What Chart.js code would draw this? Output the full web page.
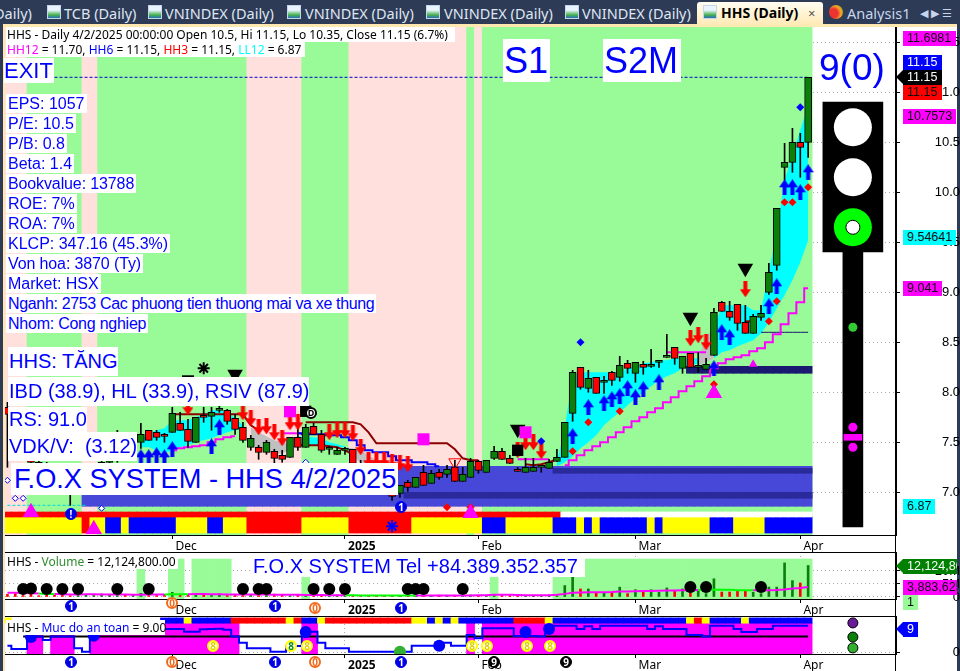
<!DOCTYPE html>
<html>
<head>
<meta charset="utf-8">
<title>HHS (Daily)</title>
<script src="https://cdn.jsdelivr.net/npm/chart.js@4"></script>
<style>
html, body { margin: 0; padding: 0; background: #2d3b57; }
#page { position: relative; width: 960px; height: 671px; overflow: hidden; background: #2d3b57; font-family: "Liberation Sans", Arial, sans-serif; }
#frame { position: absolute; left: 3px; top: 24px; width: 954px; height: 647px; background: #fff; box-sizing: border-box; border: solid #ffe8b0; border-width: 3px 0 0 2px; }
canvas { position: absolute; left: 0; }
.tab { position: absolute; top: 3px; color: #dfe6f2; font: 14.5px/20px "Noto Sans", sans-serif; white-space: nowrap; }
.ico { position: absolute; top: 5px; width: 14px; height: 14px; box-sizing: border-box; border: 1px solid #c6d6ea; background: linear-gradient(#e9f4ff 35%, #44b04a 75%, #2a6fc0); }
#active { position: absolute; left: 697px; top: 2px; width: 126px; height: 25px; background: linear-gradient(#fffdf2, #ffe8b0); border-radius: 3px 3px 0 0; }
.box { position: absolute; background: #fff; color: #0000ff; white-space: pre; box-sizing: border-box; }
.info { font-size: 16px; line-height: 19px; height: 19px; padding: 0 2px; left: 6px; }
.big { font-size: 20px; line-height: 29px; height: 29px; left: 8px; padding-left: 1px; }
.head { font: 12px/15px "Noto Sans", sans-serif; color: #000; }
.tag { position: absolute; font-size: 12.5px; line-height: 15px; height: 15px; box-sizing: border-box; padding-left: 4px; white-space: pre; overflow: hidden; color: #101010; }
.hline { position: absolute; background: #000; height: 1px; left: 5px; width: 891px; }
.coin { position: absolute; width: 12px; height: 12px; border-radius: 50%; box-sizing: border-box; font: bold 10px/11px "Noto Sans", sans-serif; text-align: center; }
.c1 { background: #0000e6; color: #fff; border: 1px solid #0000e6; }
.c0 { background: #fff; color: #f26a1b; border: 2px solid #f26a1b; line-height: 8px; }
.c8 { background: #fff; color: #e0d000; border: 2px solid #ffff00; line-height: 8px; }
.c9 { background: #000; color: #fff; border: 1px solid #000; }
</style>
</head>
<body>
<div id="page">
  <div id="frame"></div>

  <!-- tab strip -->
  <div class="tab" style="left:-6px">Daily)</div>
  <div class="ico" style="left:47px"></div><div class="tab" style="left:64px">TCB (Daily)</div>
  <div class="ico" style="left:148px"></div><div class="tab" style="left:165px">VNINDEX (Daily)</div>
  <div class="ico" style="left:287px"></div><div class="tab" style="left:305px">VNINDEX (Daily)</div>
  <div class="ico" style="left:426px"></div><div class="tab" style="left:444px">VNINDEX (Daily)</div>
  <div class="ico" style="left:565px"></div><div class="tab" style="left:582px">VNINDEX (Daily)</div>
  <div id="active"></div>
  <div class="ico" style="left:703px"></div>
  <div class="tab" style="left:721px;color:#000;font-weight:bold;font-size:14px">HHS (Daily)</div>
  <div class="tab" style="left:808px;color:#555;font-size:13px">×</div>
  <div class="ico" style="left:829px;border:0;border-radius:50%;background:radial-gradient(circle at 30% 60%,#e33 35%,#f5a623 60%,#4a3)"></div>
  <div class="tab" style="left:847px;color:#c8d6ec">Analysis1</div>
  <div class="tab" style="left:920px;color:#c8d6ec;font-size:11px">◀ ▶ ☰</div>

  <canvas id="chartPrice" width="960" height="525" style="top:27px"></canvas>
  <canvas id="chartVolume" width="960" height="64" style="top:552px"></canvas>
  <canvas id="chartSafety" width="960" height="55" style="top:616px"></canvas>

  <div class="hline" style="top:552px"></div>
  <div class="hline" style="top:616px"></div>
  <div style="position:absolute;left:895px;top:27px;width:1px;height:644px;background:#000"></div>

  <!-- main panel text -->
  <div class="box head" style="left:6px;top:27px;width:449px;padding-left:1px">HHS - Daily 4/2/2025 00:00:00 Open 10.5, Hi 11.15, Lo 10.35, Close 11.15 (6.7%)</div>
  <div class="box head" style="left:6px;top:42px;width:299px;padding-left:1px"><span style="color:#ff00ff">HH12</span> = 11.70, <span style="color:#0000ff">HH6</span> = 11.15, <span style="color:#ff0000">HH3</span> = 11.15, <span style="color:#00ffff">LL12</span> = 6.87</div>
  <div class="box" style="left:4px;top:58px;width:50px;height:25px;font-size:22px;line-height:25px">EXIT</div>
  <div class="box info" style="top:94px">EPS: 1057</div>
  <div class="box info" style="top:114px">P/E: 10.5</div>
  <div class="box info" style="top:134px">P/B: 0.8</div>
  <div class="box info" style="top:154px">Beta: 1.4</div>
  <div class="box info" style="top:174px;letter-spacing:-0.12px">Bookvalue: 13788</div>
  <div class="box info" style="top:194px">ROE: 7%</div>
  <div class="box info" style="top:214px">ROA: 7%</div>
  <div class="box info" style="top:234px">KLCP: 347.16 (45.3%)</div>
  <div class="box info" style="top:254px;letter-spacing:-0.12px">Von hoa: 3870 (Ty)</div>
  <div class="box info" style="top:274px">Market: HSX</div>
  <div class="box info" style="top:294px;letter-spacing:-0.34px">Nganh: 2753 Cac phuong tien thuong mai va xe thung</div>
  <div class="box info" style="top:314px;letter-spacing:-0.24px">Nhom: Cong nghiep</div>
  <div class="box big" style="top:347px">HHS: TĂNG</div>
  <div class="box big" style="top:377px">IBD (38.9), HL (33.9), RSIV (87.9)</div>
  <div class="box big" style="top:407px;height:25px;line-height:25px">RS: 91.0</div>
  <div class="box big" style="top:432px">VDK/V:  (3.12)</div>
  <div class="box" style="left:11px;top:463px;width:387px;height:32px;font-size:27.2px;line-height:32px;padding-left:3px">F.O.X SYSTEM - HHS 4/2/2025</div>
  <div class="box" style="left:503px;top:39px;width:47px;height:43px;font-size:36px;line-height:43px;padding-left:1px">S1</div>
  <div class="box" style="left:603px;top:39px;width:78px;height:43px;font-size:36px;line-height:43px;padding-left:1px">S2M</div>
  <div class="box" style="left:819px;top:46px;width:68px;height:44px;font-size:37px;line-height:44px;background:none">9(0)</div>
  <div class="coin" style="left:305px;top:407px;background:#fff;color:#000;border:2px solid #000;font-size:9px;line-height:8px">D</div>
  <div class="coin c1" style="left:65px;top:508px">!</div>
  <div class="coin c1" style="left:395px;top:501px">1</div>

  <!-- value tags on the price axis -->
  <div class="tag" style="left:903px;top:31px;width:53px;background:#ff00ff">11.6981</div>
  <div class="tag" style="left:903px;top:55px;width:39px;background:#0000ff;color:#fff">11.15</div>
  <div class="tag" style="left:903px;top:70px;width:39px;background:#000;color:#fff">11.15</div>
  <div style="position:absolute;left:896px;top:70px;width:0;height:0;border:solid transparent;border-width:7px 7px 7px 0;border-right-color:#000"></div>
  <div class="tag" style="left:903px;top:85px;width:39px;background:#ff0000">11.15</div>
  <div class="tag" style="left:903px;top:109px;width:53px;background:#ff00ff">10.7573</div>
  <div class="tag" style="left:903px;top:230px;width:53px;background:#00ffff">9.54641</div>
  <div class="tag" style="left:903px;top:281px;width:39px;background:#ff00ff">9.041</div>
  <div class="tag" style="left:903px;top:499px;width:32px;background:#00ffff">6.87</div>

  <!-- volume panel text -->
  <div class="box head" style="left:6px;top:554px;width:172px;padding-left:1px">HHS - <span style="color:#2e8b2e">Volume</span> = 12,124,800.00</div>
  <div class="box" style="left:252px;top:556px;width:333px;height:21px;font-size:20px;line-height:21px;padding-left:1px">F.O.X SYSTEM Tel +84.389.352.357</div>
  <div class="tag" style="left:903px;top:559px;width:54px;background:#008000;color:#fff">12,124,800</div>
  <div style="position:absolute;left:896px;top:559px;width:0;height:0;border:solid transparent;border-width:7px 7px 7px 0;border-right-color:#008000"></div>
  <div class="tag" style="left:903px;top:580px;width:54px;background:#ff00ff">3,883,625</div>
  <div class="tag" style="left:903px;top:595px;width:15px;background:#98fb98">1</div>

  <!-- safety panel text -->
  <div class="box head" style="left:6px;top:620px;width:159px;padding-left:1px">HHS - <span style="color:#0000ff">Muc do an toan</span> = 9.00</div>
  <div class="tag" style="left:903px;top:622px;width:15px;background:#0000ff;color:#fff">9</div>
  <div style="position:absolute;left:896px;top:622px;width:0;height:0;border:solid transparent;border-width:7px 7px 7px 0;border-right-color:#0000ff"></div>

  <!-- circled signals along the time axes -->
  <div class="coin c1" style="left:65px;top:600px">1</div>
  <div class="coin c0" style="left:166px;top:597px">0</div>
  <div class="coin c1" style="left:269px;top:600px">1</div>
  <div class="coin c0" style="left:309px;top:602px">0</div>
  <div class="coin c1" style="left:395px;top:602px">1</div>
  <div class="coin c1" style="left:65px;top:656px">1</div>
  <div class="coin c0" style="left:166px;top:656px">0</div>
  <div class="coin c1" style="left:269px;top:656px">1</div>
  <div class="coin c0" style="left:309px;top:656px">0</div>
  <div class="coin c1" style="left:395px;top:656px">1</div>
  <div class="coin c9" style="left:488px;top:656px">9</div>
  <div class="coin c9" style="left:560px;top:656px">9</div>
  <div class="coin c8" style="left:207px;top:640px">8</div>
  <div class="coin c8" style="left:285px;top:640px;color:#0a8a0a">8</div>
  <div class="coin c8" style="left:301px;top:640px">8</div>
  <div class="coin c8" style="left:466px;top:640px">8</div>
  <div class="coin c8" style="left:481px;top:640px">8</div>
  <div class="coin c8" style="left:521px;top:640px">8</div>
  <div class="coin c8" style="left:544px;top:640px">8</div>
</div>

<script>
// Datos. Indice de barra 0..102, precios en miles
const opens  = [7.85,7.60,7.50,7.40,7.30,7.25,7.15,7.10,7.05,7.00,7.08,7.15,7.20,7.30,7.35,7.45,7.40,7.50,7.62,7.60,7.57,7.60,7.69,7.63,7.50,7.77,7.76,7.82,7.82,7.74,7.65,7.45,7.45,7.40,7.41,7.37,7.35,7.55,7.45,7.66,7.58,7.43,7.38,7.42,7.43,7.28,7.20,7.15,7.08,7.02,6.99,7.10,7.05,7.20,7.09,7.20,7.18,7.25,7.11,7.15,7.31,7.20,7.34,7.41,7.34,7.23,7.20,7.21,7.25,7.24,7.31,7.35,7.79,8.25,8.04,8.15,8.10,8.20,8.15,8.29,8.19,8.28,8.26,8.30,8.35,8.45,8.24,8.39,8.25,8.23,8.37,8.90,8.81,8.88,8.70,8.59,8.75,9.00,9.27,10.25,10.30,10.50,10.50];
const closes = [7.78,7.50,7.40,7.30,7.25,7.15,7.10,7.05,7.00,7.08,7.15,7.20,7.30,7.35,7.45,7.40,7.47,7.58,7.52,7.55,7.56,7.79,7.62,7.51,7.75,7.75,7.80,7.84,7.71,7.63,7.52,7.54,7.40,7.50,7.34,7.33,7.55,7.45,7.65,7.58,7.42,7.43,7.42,7.42,7.29,7.25,7.15,7.08,7.02,6.96,7.07,7.05,7.15,7.07,7.19,7.15,7.23,7.11,7.18,7.31,7.22,7.32,7.41,7.33,7.29,7.21,7.25,7.25,7.25,7.30,7.35,7.70,8.20,8.05,8.14,7.99,8.10,8.12,8.27,8.24,8.30,8.25,8.26,8.30,8.36,8.34,8.36,8.25,8.25,8.28,8.80,8.81,8.75,8.69,8.59,8.76,8.79,9.20,9.84,10.30,10.50,10.45,11.15];
const highs  = [7.90,7.65,7.55,7.45,7.35,7.30,7.20,7.15,7.10,7.10,7.18,7.25,7.32,7.40,7.62,7.50,7.50,7.69,7.62,7.62,7.59,7.85,7.80,7.73,7.75,7.85,7.85,7.87,7.83,7.78,7.70,7.57,7.47,7.52,7.43,7.42,7.55,7.65,7.68,7.69,7.62,7.46,7.45,7.45,7.43,7.32,7.25,7.18,7.10,7.05,7.07,7.12,7.15,7.27,7.22,7.23,7.27,7.32,7.25,7.34,7.32,7.32,7.46,7.44,7.37,7.25,7.34,7.34,7.25,7.33,7.43,7.70,8.22,8.25,8.22,8.15,8.16,8.21,8.36,8.32,8.30,8.31,8.43,8.32,8.58,8.45,8.36,8.39,8.40,8.34,8.84,8.91,8.91,8.88,8.87,8.78,8.87,9.29,9.84,10.49,10.64,10.59,11.15];
const lows   = [7.25,7.45,7.35,7.25,7.20,7.10,7.05,7.00,6.87,6.98,7.05,7.12,7.18,7.28,7.30,7.35,7.38,7.44,7.52,7.52,7.50,7.60,7.62,7.45,7.50,7.70,7.62,7.80,7.68,7.58,7.50,7.42,7.33,7.38,7.28,7.30,7.35,7.42,7.45,7.58,7.40,7.38,7.38,7.38,7.25,7.20,7.10,7.03,6.98,6.92,6.95,7.01,7.05,7.07,7.09,7.13,7.15,7.11,7.11,7.15,7.19,7.20,7.33,7.33,7.29,7.21,7.20,7.21,7.20,7.24,7.31,7.35,7.71,8.03,8.00,7.99,7.99,8.07,8.11,8.19,8.10,8.18,8.25,8.25,8.35,8.28,8.19,8.25,8.20,8.23,8.37,8.81,8.72,8.62,8.59,8.59,8.72,8.98,9.22,10.12,10.20,10.15,10.35];

const monthTickBars = [21, 43, 60, 80, 101];
const monthLabels = ['Dec', '2025', 'Feb', 'Mar', 'Apr'];
const priceTicks = [7.0, 7.5, 8.0, 8.5, 9.0, 9.5, 10.0, 10.5, 11.0, 11.5];

// fondo por tramos [barras, estado]
const bandRuns = [[3,'P'],[7,'G'],[2,'P'],[19,'G'],[7,'P'],[6,'G'],[15,'P'],[1,'G'],[1,'P'],[42,'G']];
const stripRuns = [[10,'Y'],[1,'R'],[2,'Y'],[2,'B'],[1,'Y'],[6,'B'],[4,'Y'],[2,'B'],[3,'Y'],[7,'R'],[6,'Y'],[8,'R'],[9,'Y'],[3,'B'],[6,'Y'],[3,'B'],[1,'Y'],[1,'B'],[1,'Y'],[6,'B'],[1,'Y'],[1,'B'],[6,'Y'],[3,'B'],[4,'Y'],[6,'B']];
const alertRuns = [[71,'R'],[32,'W']];

// zonas azules abajo [barra inicial, bajo, alto]
const zoneBase = [10, 6.86, 7.26];
const zoneInnerLow = [51, 6.94, 7.00];
const zoneInnerHigh = [70, 7.19, 7.24];
const supportBar = [87, 8.19, 8.26];
const thinLineStart = 96;
const thinLinePrice = 8.60;
const exitStart = 6;
const lastClose = 11.15;
const lowest12 = 6.87;

// cinta cyan / gris
const cyanAStart = 17;
const cyanATop = [7.52,7.59,7.62,7.64,7.72,7.72,7.72,7.75,7.78,7.82,7.82,7.80,7.74,7.67];
const cyanABottom = [7.45,7.45,7.42,7.39,7.42,7.45,7.47,7.50,7.52,7.54,7.57,7.60,7.62,7.64];
const grayAStart = 31;
const grayATop = [7.65,7.60,7.56,7.52,7.50,7.48];
const grayABottom = [7.49,7.43,7.40,7.38,7.39,7.42];
const cyanBStart = 37;
const cyanBTop = [7.56,7.55,7.55,7.54,7.50,7.48,7.46];
const cyanBBottom = [7.47,7.47,7.47,7.47,7.46,7.45,7.45];
const grayBStart = 43;
const grayBTop = [7.45,7.44,7.42,7.37,7.32,7.30,7.27];
const grayBBottom = [7.45,7.37,7.29,7.27,7.24,7.22,7.22];
const cyanCStart = 70;
const cyanCTop = [7.30,7.64,8.17,8.20,8.20,8.20,8.20,8.20,8.20,8.24,8.26,8.29,8.30,8.32,8.32,8.34,8.34,8.34,8.34];
const cyanCBottom = [7.26,7.30,7.36,7.44,7.50,7.57,7.67,7.74,7.80,7.87,7.94,8.00,8.06,8.12,8.16,8.19,8.24,8.26,8.29];
const grayCStart = 88;
const grayCTop = [8.32,8.57,8.62];
const grayCBottom = [8.27,8.30,8.34];
const cyanDStart = 90;
const cyanDTop = [8.62,8.87,8.87,8.87,8.87,8.82,8.82,9.20,9.62,10.12,10.37,10.62,10.87];
const cyanDBottom = [8.34,8.40,8.42,8.46,8.49,8.52,8.59,8.70,8.84,8.97,9.12,9.30,9.52];

// lineas
const trailRightStart = 71;
const trailRight = [7.27,7.32,7.37,7.42,7.46,7.50,7.55,7.60,7.65,7.71,7.75,7.80,7.84,7.90,7.95,8.01,8.06,8.11,8.16,8.24,8.29,8.33,8.35,8.37,8.41,8.44,8.50,8.58,8.68,8.79,8.90,9.04];
const trailLeftStart = 21;
const trailLeft = [7.42,7.44,7.45,7.46,7.47,7.50,7.53,7.55,7.56];
const trailMidStart = 35;
const trailMid = [7.59,7.59,7.59,7.59,7.59];
const trailFlatStart = 65;
const trailFlat = [7.33,7.33,7.33,7.33,7.33];
const trailUpperStart = 84;
const trailUpper = [8.40,8.40,8.40,8.40,8.40,8.40];
const brownAStart = 21;
const brownA = [7.78,7.78,7.78,7.78,7.78,7.78,7.78,7.78,7.78,7.78,7.67,7.62];
const brownBStart = 38;
const brownB = [7.70,7.70,7.70,7.70,7.70,7.70,7.70,7.68,7.60,7.49,7.49,7.49,7.49,7.49,7.49,7.49,7.49,7.49,7.49,7.43,7.34,7.32,7.32];
const brownCStart = 37;
const brownC = [7.47,7.47,7.47,7.47,7.46,7.45,7.42,7.38];
const brownDStart = 66;
const brownD = [7.28,7.27,7.28,7.30,7.33];
const brownEStart = 94;
const brownE = [8.71,8.71];
const blueTrailStart = 37;
const blueTrail = [7.59,7.58,7.58,7.58,7.57,7.57,7.55,7.52,7.47,7.42,7.40,7.40,7.36,7.32,7.32,7.30,7.30,7.28,7.26];

// senales
const upBars = [17,18,19,20,21,26,27,72,74,76,77,78,79,80,81,83,90,91,92,97,98,99,100,101,102];
const upPrices = [7.35,7.35,7.37,7.35,7.43,7.46,7.65,7.56,7.85,7.89,7.93,7.96,8.04,7.95,8.03,8.10,8.24,8.60,8.55,8.86,9.06,10.05,10.05,10.00,10.20];
const downBars = [23,30,31,32,33,34,35,36,37,41,42,43,44,45,46,47,48,49,50,51,65,66,67,68,87,88,89,94];
const downPrices = [7.85,7.80,7.74,7.65,7.66,7.60,7.54,7.70,7.70,7.60,7.62,7.62,7.59,7.45,7.32,7.32,7.32,7.30,7.29,7.28,7.42,7.50,7.50,7.41,8.54,8.57,8.50,9.03];
const redDotBars = [56,59,72,74,78,90,97,98,99,100,102];
const redDotPrices = [6.85,6.85,7.41,7.70,7.81,8.08,8.71,8.91,9.90,9.90,10.05];
const blueDotBars = [68,73,101];
const blueDotPrices = [7.51,8.50,10.85];
const hollowBars = [0,1,2,12,38];
const hollowPrices = [7.12,6.94,6.94,6.84,7.30];
const sellBars = [29,65,87,94];
const sellPrices = [8.18,7.63,8.75,9.24];
const blackBoxBars = [38,65];
const blackBoxPrices = [7.81,7.42];
const pinkBoxBars = [36,53,66];
const pinkBoxPrices = [7.81,7.53,7.60];
const pinkUpBars = [3,11,59,90];
const pinkUpPrices = [6.80,6.63,6.79,7.99];
const pinkUpSmallBars = [95];
const pinkUpSmallPrices = [8.28];
const hollowDownBars = [57];
const hollowDownPrices = [7.30];
const starBars = [25];
const starPrices = [8.24];
const dashBars = [23];
const dashPrices = [8.16];
const snowBars = [49];
const snowPrices = [6.66];

// semaforo, en la columna derecha del panel
const lampBar = 107.7;
const lampHousing = [9.403, 10.903];
const lampPole = [6.653, 9.403];
const lampWhite = [10.65, 10.15];
const lampGreen = 9.65;
const poleGreen = 8.65;
const polePink = [7.65, 7.45];
const poleDash = [7.52, 7.58];

// volumen (millones)
const volumes = [1.0,1.3,0.6,1.2,0.5,0.9,0.7,1.1,0.5,1.0,0.8,0.6,1.2,0.9,0.6,0.8,1.0,1.4,0.7,0.6,0.9,1.8,0.7,0.8,0.9,1.1,0.6,1.2,0.6,0.8,0.9,0.7,0.6,0.8,1.1,0.7,0.5,0.6,0.9,0.7,0.6,0.5,0.8,0.6,0.7,0.4,0.5,0.6,0.4,0.5,0.6,0.7,0.4,0.6,0.5,0.7,0.4,0.5,0.6,0.8,0.5,0.4,0.9,0.6,0.5,0.7,0.4,0.6,0.5,0.8,0.9,4.4,7.7,3.1,3.1,1.8,1.5,1.8,3.8,1.3,2.8,2.4,2.8,1.8,3.5,2.4,3.1,1.5,2.2,1.3,7.0,1.9,1.9,2.2,2.2,1.8,1.3,3.8,3.8,13.1,6.3,5.4,12.12];
const volumeMa = [1.6,1.6,1.5,1.4,1.3,1.2,1.2,1.1,1.0,1.0,1.1,1.1,1.0,1.0,1.0,1.0,0.9,0.9,1.0,1.0,1.0,1.1,1.1,1.1,1.2,1.2,1.1,1.1,1.0,1.0,1.0,1.0,1.0,1.0,0.9,0.9,0.9,0.9,0.8,0.8,0.8,0.7,0.7,0.7,0.7,0.6,0.6,0.6,0.6,0.6,0.6,0.6,0.6,0.6,0.6,0.6,0.6,0.6,0.6,0.6,0.7,0.7,0.9,0.9,0.9,0.8,0.7,0.7,0.7,0.7,0.9,1.2,1.6,1.7,1.8,1.8,1.8,1.9,2.1,2.1,2.2,2.3,2.3,2.4,2.5,2.5,2.6,2.6,2.7,2.7,2.8,2.8,2.8,2.6,2.6,2.6,2.6,2.6,2.7,2.9,3.3,3.5,3.88];
const volumeMaLimeBars = [4,5,20,21,22,43,44,45,46,47,48,49,50,51,88,89,90,91,92,93,94];
const volumeBandRuns = [[17,null],[1,10.8],[3,null],[2,14.6],[1,null],[5,14.6],[9,null],[1,7.7],[23,null],[1,7.7],[7,null],[33,14.6]];
const volumeDotBars = [2,3,5,7,9,14,18,30,32,33,39,41,43,51,52,53,58,87,89,96];
const volumeDotValues = [3.1,3.3,3.1,3.1,3.1,3.1,3.1,3.1,3.1,3.1,3.1,3.1,3.1,3.1,3.1,3.1,3.1,3.85,3.85,3.85];
const volumeTicks = [0, 5, 10];

// muc do an toan
const safety = [2.35,1.24,1.24,4.2,5.35,4.2,5.35,5.35,5.35,1.46,0.35,5.35,6.5,6.5,6.5,6.5,6.5,6.5,6.5,6.5,7.9,7.9,7.9,7,7,7.8,7.9,8,7.6,5.4,3.35,1.46,1.46,1.46,0.35,0.35,2.2,2.2,7,7,3.35,1.46,1.46,1.46,0.35,0.35,0.35,0.35,0.35,0.35,0.35,0.35,2.35,2.35,2.35,3.35,3.35,2.35,2.35,5.9,4.8,8.1,8.1,8.1,8.1,5.57,5.57,5.57,5.35,9,9,9,9,7.9,8.8,7.9,9,9,9,9,9,9,7.9,8.8,7.9,7.9,7.9,5.9,5.9,5.35,9,9,9,7.9,6.9,6.9,7.9,7.9,9,9,9,9,9];
const safetyZoneRuns = [[3,null],[2,6.7],[1,null],[3,6.7],[2,null],[9,6.7],[10,9.8],[8,null],[2,9.8],[19,null],[1,9.8],[1,null],[42,9.8]];
const safetyStripRuns = [[1,'Y'],[19,null],[3,'B'],[1,'Y'],[5,'B'],[7,'R'],[1,'Y'],[1,'R'],[2,'B'],[1,'Y'],[11,'R'],[2,'Y'],[1,'B'],[1,'Y'],[1,'B'],[1,'Y'],[7,'B'],[4,'R'],[1,'Y'],[17,'B'],[1,'Y'],[1,'R'],[1,'Y'],[4,'B'],[1,'Y'],[8,'B']];
const safetyLevel = 5.35;
const safetyDotBars = [3,11,38,55,66,69];
const safetyDotValues = [5.2,5.6,6.9,2.3,6.9,7.9];
const safetyGreenBars = [50];
const safetyGreenValues = [0.35];
const safetyLampPurple = 9.9;
const safetyLampDark = 5.2;
const safetyLampGreen = 1.6;

// ----- colores -----
const cellColors = { P: '#ffe0dc', G: '#98fb98', Y: '#ffff00', R: '#ff0000', B: '#0000ff', W: '#ffffff' };
const upColor = '#0a7f0a';
const downColor = '#ff0000';

// ----- ayudas -----
function expandRuns(runs) {
    const out = [];
    runs.forEach(([count, value]) => {
        for (let k = 0; k < count; k++) out.push(value);
    });
    return out;
}

function seriesPoints(start, values) {
    return values.map((v, k) => ({ x: start + k, y: v }));
}

function pairPoints(bars, values) {
    return bars.map((b, k) => ({ x: b, y: values[k] }));
}

function cellBars(states, low, high, order, thickness) {
    const data = [];
    const colors = [];
    states.forEach((s, i) => {
        if (s === null) return;
        data.push({ x: i, y: [low, high] });
        colors.push(cellColors[s]);
    });
    return { type: 'bar', data, backgroundColor: colors, barThickness: thickness || 8, grouped: false, order };
}

function rangeBars(range, color, order) {
    const data = [];
    for (let i = range[0]; i < opens.length; i++) data.push({ x: i, y: [range[1], range[2]] });
    return { type: 'bar', data, backgroundColor: color, barThickness: 8, grouped: false, order };
}

function lineSet(data, color, width, order, extra) {
    return Object.assign({ type: 'line', data, borderColor: color, borderWidth: width, pointRadius: 0, fill: false, tension: 0, order }, extra || {});
}

function ribbon(start, top, bottom, color, order) {
    return [
        lineSet(seriesPoints(start, top), 'transparent', 0, order, { fill: '+1', backgroundColor: color }),
        lineSet(seriesPoints(start, bottom), 'transparent', 0, order)
    ];
}

function marks(data, style, color, radius, order, extra) {
    return Object.assign({ type: 'scatter', data, pointStyle: style, pointRadius: radius, pointBackgroundColor: color, pointBorderColor: color, pointBorderWidth: 0, order }, extra || {});
}

// flechas de senal como imagen de punto
function arrowImage(color, up) {
    const c = document.createElement('canvas');
    c.width = 11;
    c.height = 16;
    const g = c.getContext('2d');
    if (!up) { g.translate(0, 16); g.scale(1, -1); }
    g.fillStyle = color;
    g.beginPath();
    g.moveTo(5.5, 0);
    g.lineTo(11, 8);
    g.lineTo(7.5, 8);
    g.lineTo(7.5, 16);
    g.lineTo(3.5, 16);
    g.lineTo(3.5, 8);
    g.lineTo(0, 8);
    g.closePath();
    g.fill();
    return c;
}

const xMin = (5 - 7.43) / 7.85;
const xMax = (896 - 7.43) / 7.85;

function timeAxis(labelHeight) {
    return {
        type: 'linear', min: xMin, max: xMax, offset: false,
        grid: { color: '#aaaaaa', tickColor: '#000', tickLength: 4, offset: false },
        border: { color: '#000', dash: [1, 3] },
        ticks: {
            autoSkip: false, maxRotation: 0, align: 'start', color: '#000', padding: 0,
            font: c => ({ family: 'Noto Sans', size: 12, weight: c.tick && c.tick.label === ' 2025' ? 'bold' : 'normal' }),
            callback: v => ' ' + monthLabels[monthTickBars.indexOf(v)]
        },
        afterBuildTicks: s => { s.ticks = monthTickBars.map(v => ({ value: v })); },
        afterFit: s => { s.height = labelHeight; }
    };
}

function valueAxis(min, max, ticks, padding, label) {
    return {
        type: 'linear', position: 'right', min, max, beginAtZero: false,
        grid: { color: '#aaaaaa', tickColor: '#000', tickLength: 4 },
        border: { color: '#000', dash: [1, 3] },
        ticks: { color: '#000', padding, crossAlign: 'far', includeBounds: false, font: { family: 'Liberation Sans', size: 13 }, callback: label },
        afterBuildTicks: s => { s.ticks = ticks.map(v => ({ value: v })); },
        afterFit: s => { s.width = 64; s.paddingTop = 0; s.paddingBottom = 0; }
    };
}

function baseOptions(xAxis, yAxis) {
    return {
        responsive: false,
        animation: false,
        layout: { autoPadding: false, padding: { left: 5, top: 0, right: 0, bottom: 0 } },
        plugins: { legend: { display: false }, tooltip: { enabled: false } },
        events: [],
        scales: { x: xAxis, y: yAxis }
    };
}

// ----- panel de precio -----
const yMinPrice = 6.573;
const yMaxPrice = 11.653;
const candleData = opens.map((o, i) => ({ x: i, y: [o, closes[i]] }));
const wickData = opens.map((o, i) => ({ x: i, y: [lows[i], highs[i]] }));
const candleColors = opens.map((o, i) => (closes[i] >= o ? upColor : downColor));

const priceDatasets = [
    cellBars(expandRuns(bandRuns), yMinPrice, yMaxPrice, 100),
    rangeBars(zoneBase, '#4848d8', 90),
    rangeBars(zoneInnerLow, '#2a2a9c', 89),
    rangeBars(zoneInnerHigh, '#2a2a9c', 89),
    ...ribbon(cyanAStart, cyanATop, cyanABottom, '#00ffff', 80),
    ...ribbon(grayAStart, grayATop, grayABottom, '#c0c0c0', 80),
    ...ribbon(cyanBStart, cyanBTop, cyanBBottom, '#00ffff', 80),
    ...ribbon(grayBStart, grayBTop, grayBBottom, '#c0c0c0', 80),
    ...ribbon(cyanCStart, cyanCTop, cyanCBottom, '#00ffff', 80),
    ...ribbon(grayCStart, grayCTop, grayCBottom, '#c0c0c0', 80),
    ...ribbon(cyanDStart, cyanDTop, cyanDBottom, '#00ffff', 80),
    lineSet(seriesPoints(exitStart, new Array(opens.length - exitStart).fill(lastClose)), '#0000c8', 1, 70, { borderDash: [3, 2] }),
    lineSet(seriesPoints(0, new Array(11).fill(lowest12)), '#00d8d8', 1, 70, { borderDash: [3, 2] }),
    lineSet(seriesPoints(thinLineStart, new Array(opens.length - thinLineStart).fill(thinLinePrice)), '#1a1a70', 1, 70),
    { type: 'bar', data: seriesPoints(supportBar[0], new Array(opens.length - supportBar[0]).fill([supportBar[1], supportBar[2]])), backgroundColor: '#1a1a70', barThickness: 8, grouped: false, order: 69 },
    lineSet(seriesPoints(trailRightStart, trailRight), '#ff00ff', 2, 60, { stepped: 'middle' }),
    lineSet(seriesPoints(trailLeftStart, trailLeft), '#ff00ff', 2, 60, { stepped: 'middle' }),
    lineSet(seriesPoints(trailMidStart, trailMid), '#ff00ff', 2, 60),
    lineSet(seriesPoints(trailFlatStart, trailFlat), '#ff00ff', 2, 60),
    lineSet(seriesPoints(trailUpperStart, trailUpper), '#ff00ff', 2, 60),
    lineSet(seriesPoints(brownAStart, brownA), '#8b0000', 2, 59),
    lineSet(seriesPoints(brownBStart, brownB), '#8b0000', 2, 59),
    lineSet(seriesPoints(brownCStart, brownC), '#8b0000', 2, 59),
    lineSet(seriesPoints(brownDStart, brownD), '#8b0000', 2, 59),
    lineSet(seriesPoints(brownEStart, brownE), '#8b0000', 2, 59),
    lineSet(seriesPoints(blueTrailStart, blueTrail), '#0000ff', 2, 58, { stepped: 'middle' }),
    { type: 'bar', data: wickData, backgroundColor: '#000', barThickness: 1, grouped: false, order: 50 },
    { type: 'bar', data: candleData, backgroundColor: candleColors, borderColor: '#000', borderWidth: 1, borderSkipped: false, minBarLength: 2, barThickness: 7, grouped: false, order: 49 },
    cellBars(expandRuns(alertRuns), 6.753, 6.803, 40),
    cellBars(expandRuns(stripRuns), 6.593, 6.753, 40),
    marks(pairPoints(upBars, upPrices), arrowImage('#0000ff', true), '#0000ff', 8, 30),
    marks(pairPoints(downBars, downPrices), arrowImage('#ff0000', false), '#ff0000', 8, 30),
    marks(pairPoints(redDotBars, redDotPrices), 'rectRot', '#ff0000', 4, 29),
    marks(pairPoints(blueDotBars, blueDotPrices), 'rectRot', '#0000ff', 4, 29),
    marks(pairPoints(hollowBars, hollowPrices), 'rectRot', '#ffffff', 3, 29, { pointBorderColor: '#0000ff', pointBorderWidth: 1 }),
    marks(pairPoints(sellBars, sellPrices), 'triangle', '#000', 9, 28, { rotation: 180 }),
    marks(pairPoints(blackBoxBars, blackBoxPrices), 'rect', '#000', 8, 27),
    marks(pairPoints(pinkBoxBars, pinkBoxPrices), 'rect', '#ff00ff', 8.5, 26),
    marks(pairPoints(pinkUpBars, pinkUpPrices), 'triangle', '#ff00ff', 9.5, 26),
    marks(pairPoints(pinkUpSmallBars, pinkUpSmallPrices), 'triangle', '#ff00ff', 5, 26),
    marks(pairPoints(hollowDownBars, hollowDownPrices), 'triangle', 'transparent', 7, 25, { rotation: 180, pointBorderColor: '#ff0000', pointBorderWidth: 1 }),
    marks(pairPoints(starBars, starPrices), 'star', '#000', 6, 25, { pointBorderWidth: 2 }),
    marks(pairPoints(dashBars, dashPrices), 'line', '#000', 6, 25, { pointBorderWidth: 2 }),
    marks(pairPoints(snowBars, snowPrices), 'star', '#0000ff', 6, 25, { pointBorderWidth: 2 }),
    { type: 'bar', data: [{ x: lampBar, y: lampHousing }], backgroundColor: '#000', barThickness: 60, grouped: false, order: 20 },
    { type: 'bar', data: [{ x: lampBar, y: lampPole }], backgroundColor: '#000', barThickness: 20, grouped: false, order: 20 },
    marks(lampWhite.map(v => ({ x: lampBar, y: v })), 'circle', '#fff', 19, 19),
    marks([{ x: lampBar, y: lampGreen }], 'circle', '#00ff00', 19, 19),
    marks([{ x: lampBar, y: lampGreen }], 'circle', '#fff', 7, 18, { pointBorderColor: '#000', pointBorderWidth: 1 }),
    marks([{ x: lampBar, y: poleGreen }], 'circle', '#32cd32', 4.5, 19),
    marks(polePink.map(v => ({ x: lampBar, y: v })), 'circle', '#ff00ff', 4.5, 19),
    { type: 'bar', data: [{ x: lampBar, y: poleDash }], backgroundColor: '#ff00ff', barThickness: 18, grouped: false, order: 18 }
];

new Chart(document.getElementById('chartPrice').getContext('2d'), {
    type: 'bar',
    data: { datasets: priceDatasets },
    options: baseOptions(timeAxis(17), valueAxis(yMinPrice, yMaxPrice, priceTicks, 21, v => v.toFixed(1)))
});

// ----- panel de volumen -----
const yMinVolume = -0.77;
const yMaxVolume = 17.3;
const volumeBandData = [];
expandRuns(volumeBandRuns).forEach((v, i) => {
    if (v !== null) volumeBandData.push({ x: i, y: [yMinVolume, v] });
});

new Chart(document.getElementById('chartVolume').getContext('2d'), {
    type: 'bar',
    data: {
        datasets: [
            { type: 'bar', data: volumeBandData, backgroundColor: cellColors.G, barThickness: 8, grouped: false, order: 50 },
            { type: 'bar', data: seriesPoints(0, volumes), backgroundColor: candleColors, barThickness: 2, grouped: false, order: 40 },
            lineSet(seriesPoints(0, volumeMa), '#ff00ff', 2, 30, {
                segment: { borderColor: c => (volumeMaLimeBars.includes(c.p0.parsed.x) ? '#00ff00' : '#ff00ff') }
            }),
            marks(pairPoints(volumeDotBars, volumeDotValues), 'circle', '#000', 6, 20)
        ]
    },
    options: baseOptions(timeAxis(17), valueAxis(yMinVolume, yMaxVolume, volumeTicks, 19, v => (v === 0 ? '0' : v + 'M')))
});

// ----- panel muc do an toan -----
const yMinSafety = -0.43;
const yMaxSafety = 12.2;
const safetyZoneData = [];
expandRuns(safetyZoneRuns).forEach((v, i) => {
    if (v !== null) safetyZoneData.push({ x: i, y: [yMinSafety, v] });
});

new Chart(document.getElementById('chartSafety').getContext('2d'), {
    type: 'bar',
    data: {
        datasets: [
            { type: 'bar', data: safetyZoneData, backgroundColor: '#ff00ff', barThickness: 8, grouped: false, order: 50 },
            cellBars(expandRuns(safetyStripRuns), 9.8, 11.57, 49),
            lineSet(seriesPoints(2, new Array(opens.length - 2).fill(safetyLevel)), '#000', 2, 40),
            lineSet(seriesPoints(0, safety), '#0000ff', 2, 30, { stepped: 'middle' }),
            marks(pairPoints(safetyDotBars, safetyDotValues), 'circle', '#0000ff', 6, 20),
            marks(pairPoints(safetyGreenBars, safetyGreenValues), 'circle', '#32b032', 6, 20),
            marks([{ x: lampBar, y: safetyLampPurple }], 'circle', '#6a1b9a', 5, 20, { pointBorderColor: '#000', pointBorderWidth: 1 }),
            marks([{ x: lampBar, y: safetyLampDark }], 'circle', '#0a7f0a', 5, 20, { pointBorderColor: '#000', pointBorderWidth: 1 }),
            marks([{ x: lampBar, y: safetyLampGreen }], 'circle', '#32b032', 5, 20, { pointBorderColor: '#000', pointBorderWidth: 1 })
        ]
    },
    options: baseOptions(timeAxis(17), valueAxis(yMinSafety, yMaxSafety, [0], 37, v => String(v)))
});
</script>
</body>
</html>
